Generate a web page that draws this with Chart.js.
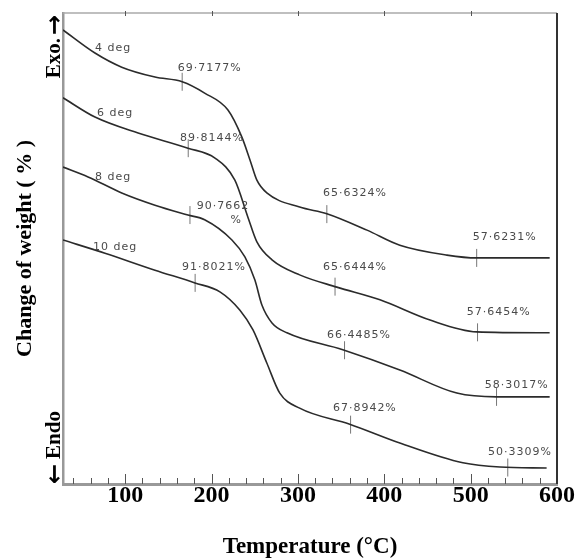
<!DOCTYPE html>
<html>
<head>
<meta charset="utf-8">
<script src="https://cdn.jsdelivr.net/npm/chart.js@4.4.1/dist/chart.umd.min.js"></script>
<style>
  html, body { margin: 0; padding: 0; background: #fff; }
  #wrap { width: 576px; height: 559px; }
</style>
</head>
<body>
<div id="wrap"><canvas id="tga"></canvas></div>
<script>
// TGA traces, temperature (°C) vs relative weight signal (arbitrary 0-100 units)
const TEMP_4 = [28, 65, 96, 134.5, 166, 192, 219, 235, 244.5, 252.5, 264, 302, 333.5, 380, 418, 472.5, 507, 591.5];
const SIG_4  = [96.4, 91.5, 88.5, 86.4, 85.4, 83.0, 79.4, 73.7, 68.8, 64.5, 61.8, 58.8, 57.4, 53.9, 50.7, 48.6, 48.0, 48.0];

const TEMP_6 = [28, 65, 115, 172.7, 204, 227, 242, 252.5, 270, 302, 345, 395, 453, 507, 591.5];
const SIG_6  = [82.0, 77.9, 74.5, 71.3, 69.2, 64.5, 56.7, 51.4, 47.6, 44.4, 41.8, 39.1, 34.8, 32.3, 32.1];

const TEMP_8 = [28, 57, 96, 134.5, 172.7, 192, 223.6, 238.6, 250.2, 258.3, 270, 287.3, 352, 418, 484, 530, 591.5];
const SIG_8  = [67.3, 65.2, 61.8, 59.2, 57.1, 56.1, 51.8, 48.2, 43.3, 38.0, 34.2, 32.1, 28.5, 24.2, 19.3, 18.5, 18.5];

const TEMP_10 = [28, 76.6, 134.5, 180.8, 209.7, 232.9, 248, 264, 279, 302, 360, 418, 491, 534, 588];
const SIG_10  = [51.8, 49.0, 45.4, 42.7, 40.8, 36.9, 32.7, 25.7, 19.3, 16.1, 12.7, 8.7, 4.5, 3.6, 3.4];

// marker positions on the traces
const MARK_T = [166, 333.5, 507, 173, 343, 508, 175, 354, 530, 181, 361, 543];
const MARK_S = [85.4, 57.3, 48.0, 71.3, 41.9, 32.2, 57.1, 28.4, 18.5, 42.7, 12.6, 3.5];

// text annotations
const NOTE_TEXT = ['4 deg', '6 deg', '8 deg', '10 deg',
  '69·7177%', '89·8144%', '90·7662', '%', '91·8021%',
  '65·6324%', '65·6444%', '66·4485%', '67·8942%',
  '57·6231%', '57·6454%', '58·3017%', '50·3309%'];
const NOTE_T = [65, 67.4, 65, 62.7, 161, 163.4, 183, 222, 165.7, 329, 329, 333.6, 340.5, 502.5, 495.6, 516.4, 520];
const NOTE_S = [92.6, 78.8, 65.2, 50.3, 88.3, 73.5, 58.9, 56.1, 46.1, 61.8, 46.1, 31.6, 16.1, 52.4, 36.5, 21.0, 6.8];

const X_LABELS = [100, 200, 300, 400, 500, 600];
const X_MINOR = [40, 60, 80, 100, 120, 140, 160, 180, 200, 220, 240, 260, 280, 300, 320, 340, 360, 380, 400, 420, 440, 460, 480, 500, 520, 540, 560, 580];

const toPts = (xs, ys) => xs.map((x, i) => ({ x, y: ys[i] }));

function trace(xs, ys) {
  return {
    type: 'line',
    data: toPts(xs, ys),
    borderColor: '#2b2b2b',
    borderWidth: 1.6,
    pointRadius: 0,
    cubicInterpolationMode: 'monotone',
    fill: false,
  };
}

const decor = {
  id: 'decor',
  afterDatasetsDraw(chart) {
    const { ctx, chartArea: a, scales: { x, y } } = chart;
    ctx.save();
    // top and right frame
    ctx.strokeStyle = '#aaa';
    ctx.lineWidth = 1.5;
    ctx.beginPath();
    ctx.moveTo(a.left, a.top); ctx.lineTo(a.right, a.top);
    ctx.stroke();
    ctx.strokeStyle = '#333';
    ctx.lineWidth = 2;
    ctx.beginPath();
    ctx.moveTo(a.right, a.top); ctx.lineTo(a.right, a.bottom);
    ctx.stroke();
    // ticks
    ctx.strokeStyle = '#555';
    ctx.lineWidth = 1;
    X_MINOR.forEach(v => {
      const px = Math.round(x.getPixelForValue(v)) + 0.5;
      const len = v % 100 === 0 ? 10 : 6;
      ctx.beginPath();
      ctx.moveTo(px, a.bottom); ctx.lineTo(px, a.bottom - len);
      ctx.stroke();
    });
    X_LABELS.slice(0, 5).forEach(v => {
      const px = Math.round(x.getPixelForValue(v)) + 0.5;
      ctx.beginPath();
      ctx.moveTo(px, a.top - 2); ctx.lineTo(px, a.top + 3);
      ctx.stroke();
    });
    // annotations
    ctx.fillStyle = '#4a4a4a';
    ctx.font = '11px "DejaVu Sans"';
    ctx.letterSpacing = '1px';
    ctx.textAlign = 'left';
    ctx.textBaseline = 'middle';
    NOTE_TEXT.forEach((t, i) => {
      ctx.fillText(t, x.getPixelForValue(NOTE_T[i]), y.getPixelForValue(NOTE_S[i]));
    });
    ctx.letterSpacing = '0px';
    // Exo / Endo, rotated
    ctx.fillStyle = '#000';
    ctx.translate(a.left - 8, 0);
    ctx.rotate(-Math.PI / 2);
    const arrowFont = 'bold 24px "DejaVu Sans"';
    const textFont = 'bold 21px "Liberation Serif"';
    ctx.font = arrowFont;
    const aw = ctx.measureText('\u2192').width;
    ctx.textAlign = 'right';
    ctx.fillText('\u2192', -(a.top + 2), 1);
    ctx.font = textFont;
    ctx.fillText('Exo.', -(a.top + 2) - aw - 3, 0);
    ctx.textAlign = 'left';
    ctx.font = arrowFont;
    ctx.fillText('\u2190', -a.bottom, 1);
    ctx.font = textFont;
    ctx.fillText('Endo', -a.bottom + aw + 5, 0);
    ctx.restore();
  }
};

new Chart(document.getElementById('tga'), {
  data: {
    datasets: [
      trace(TEMP_4, SIG_4),
      trace(TEMP_6, SIG_6),
      trace(TEMP_8, SIG_8),
      trace(TEMP_10, SIG_10),
      {
        type: 'scatter',
        data: toPts(MARK_T, MARK_S),
        pointStyle: 'line',
        rotation: 90,
        pointRadius: 9,
        borderColor: '#777',
        borderWidth: 1,
      },
    ],
  },
  options: {
    responsive: true,
    maintainAspectRatio: false,
    animation: false,
    layout: { padding: { top: 13, right: 19, left: 0, bottom: 0 } },
    plugins: { legend: { display: false }, tooltip: { enabled: false } },
    scales: {
      x: {
        type: 'linear',
        min: 28,
        max: 600,
        afterBuildTicks: s => { s.ticks = X_LABELS.map(v => ({ value: v })); },
        afterFit: s => { s.height = 75; },
        grid: { display: false, drawTicks: false },
        border: { display: true, color: '#999', width: 3 },
        ticks: {
          color: '#000',
          padding: 0,
          maxRotation: 0,
          font: { family: 'Liberation Serif', weight: 'bold', size: 24, lineHeight: 1 },
        },
        title: {
          display: true,
          text: 'Temperature (°C)',
          color: '#000',
          padding: { top: 0, bottom: 0 },
          font: { family: 'Liberation Serif', weight: 'bold', size: 23, lineHeight: 1 },
        },
      },
      y: {
        min: 0,
        max: 100,
        afterFit: s => { s.width = 63; },
        grid: { display: false, drawTicks: false },
        border: { display: true, color: '#999', width: 2.5 },
        ticks: { display: false },
        title: {
          display: true,
          text: 'Change of weight ( % )',
          color: '#000',
          padding: { top: 14, bottom: 0 },
          font: { family: 'Liberation Serif', weight: 'bold', size: 22, lineHeight: 1 },
        },
      },
    },
  },
  plugins: [decor],
});
</script>
</body>
</html>
